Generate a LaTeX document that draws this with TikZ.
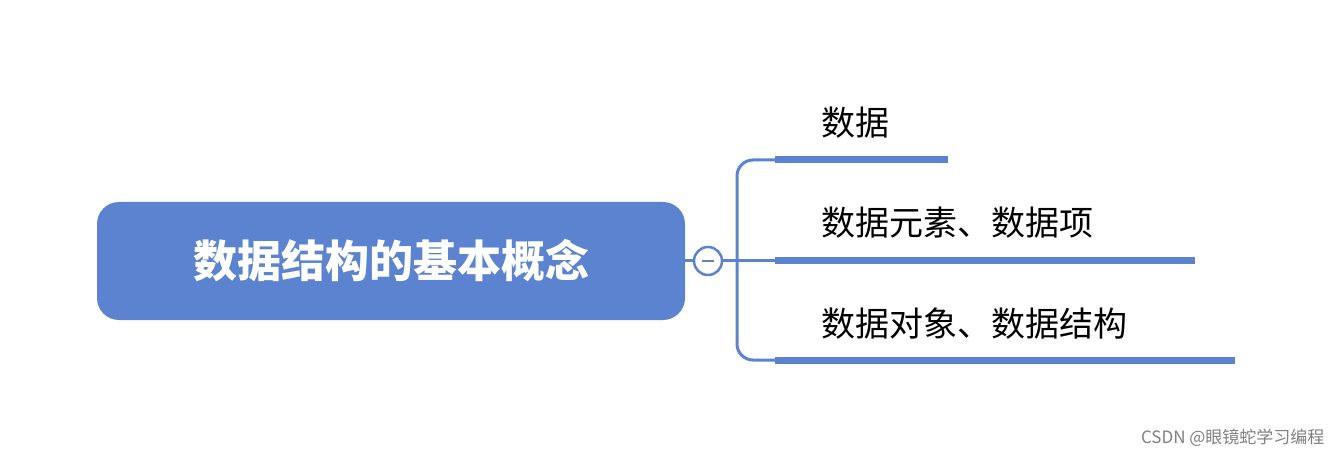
\documentclass[tikz,border=0pt]{standalone}
\usepackage{fontspec}
\newfontfamily\cjk{Noto Sans CJK SC}
\usetikzlibrary{positioning}
\definecolor{mapblue}{HTML}{5B83CF}
\tikzset{
  root/.style = {fill = mapblue, rounded corners = 22pt, minimum width = 588pt,
                 minimum height = 118pt, text = white, font = \cjk\fontsize{44}{50}\selectfont\bfseries},
  leaf/.style = {anchor = base west, font = \cjk\fontsize{34}{40}\selectfont},
  branch/.style = {draw = mapblue, line width = 3pt},
  under/.style = {draw = mapblue, line width = 7pt}
}
\begin{document}
\begin{tikzpicture}[x = 1pt, y = -1pt]
    \useasboundingbox[fill = white] (0,0) rectangle (1342,457);
    \node[root] (core) at (391,261) {数据结构的基本概念};
    \node[circle, draw = mapblue, line width = 2.5pt, fill = white, minimum size = 28pt, inner sep = 0pt] (fold) at (708,261) {};
    \draw[draw = mapblue!60!gray, line width = 2pt] ([xshift = -6pt]fold.center) -- ([xshift = 6pt]fold.center);
    \draw[branch] (core.east) -- (fold.west);
    \coordinate (split) at (737,261);
    \draw[branch] (fold.east) -- (split);
    % the three branches
    \coordinate (endA) at (775,160);
    \coordinate (endB) at (775,261);
    \coordinate (endC) at (775,360);
    \draw[branch, rounded corners = 16pt] (endA) -- (737,160) -- (737,360) -- (endC);
    \draw[branch] (split) -- (endB);
    \draw[under] (endA) -- ++(173,0);
    \draw[under] (endB) -- ++(420,0);
    \draw[under] (endC) -- ++(460,0);
    \node[leaf] (data) at (818,136) {数据};
    \node[leaf] (item) at (818,236) {数据元素、数据项};
    \node[leaf] (obj) at (818,336) {数据对象、数据结构};
    \node[anchor = east, text = gray, font = \cjk\fontsize{17}{20}\selectfont] (mark) at (1328,438) {CSDN @眼镜蛇学习编程};
\end{tikzpicture}
\end{document}
